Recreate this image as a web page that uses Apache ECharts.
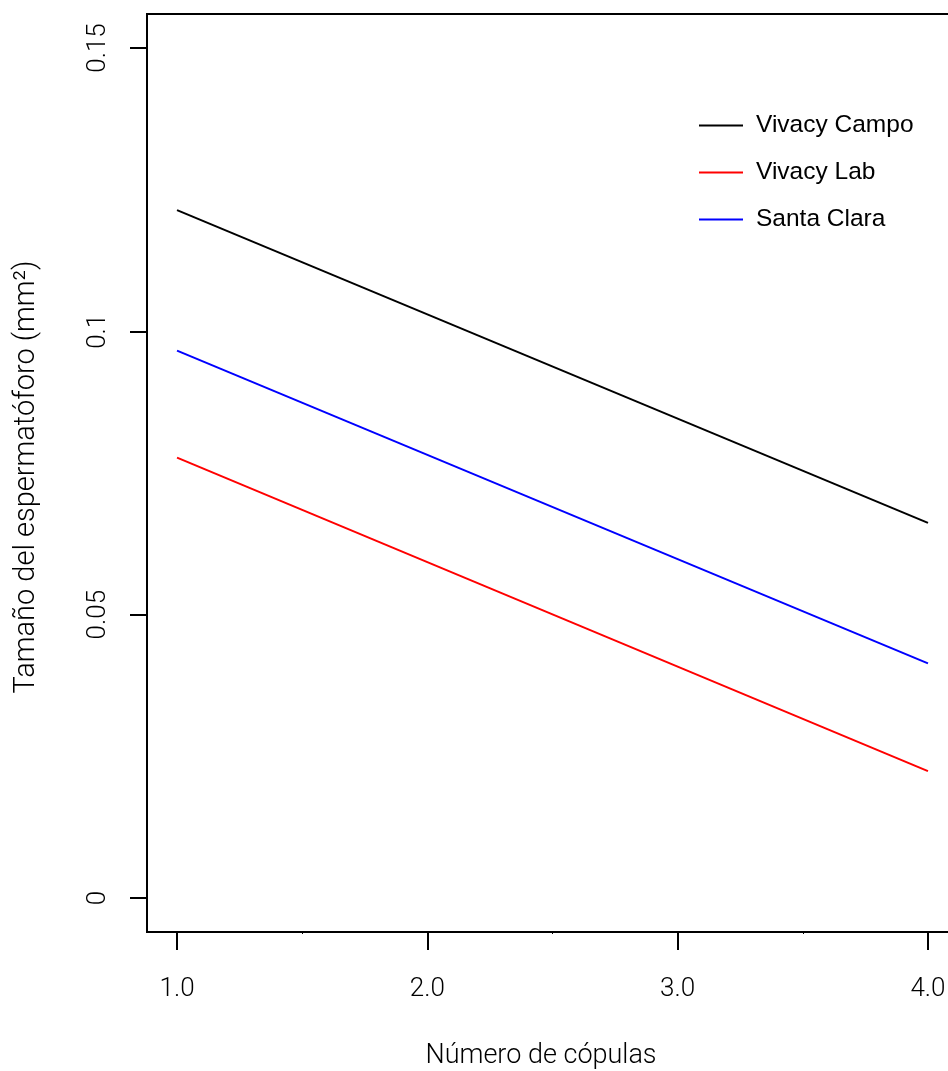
<!DOCTYPE html>
<html>
<head>
<meta charset="utf-8">
<script src="https://cdn.jsdelivr.net/npm/echarts@6/dist/echarts.min.js"></script>
<style>
  html, body { margin: 0; padding: 0; background: #fff; }
  #chart { width: 948px; height: 1071px; }
</style>
</head>
<body>
<div id="chart"></div>
<script>
// Number of copulations (x) and fitted spermatophore size (mm²) per population
const copulas = [1, 4];
const vivacyCampo = [0.1214, 0.0662];
const vivacyLab = [0.0777, 0.0224];
const santaClara = [0.0966, 0.0414];

const xTicks = [1, 2, 3, 4];
const xMinorTicks = [1.5, 2.5, 3.5];
const yTicks = [0, 0.05, 0.1, 0.15];

const seriesDefs = [
  { name: 'Vivacy Campo', values: vivacyCampo, color: '#000000' },
  { name: 'Vivacy Lab', values: vivacyLab, color: '#ff0000' },
  { name: 'Santa Clara', values: santaClara, color: '#0000ff' }
];

const lightFont = 'Roboto';
const chart = echarts.init(document.getElementById('chart'), null, { renderer: 'canvas' });

const axisLineStyle = { color: '#000', width: 2 };

chart.setOption({
  animation: false,
  backgroundColor: '#ffffff',
  grid: {
    left: 147, top: 14, width: 811, bottom: 139,
    outerBoundsMode: 'none',
    containLabel: false,
    show: true, borderColor: '#000', borderWidth: 2, backgroundColor: 'transparent'
  },
  legend: {
    orient: 'vertical',
    left: 699, top: 113,
    padding: 0,
    icon: 'rect',
    itemWidth: 44, itemHeight: 2,
    itemGap: 22,
    textStyle: {
      fontFamily: 'Liberation Sans', fontSize: 24.5, color: '#000',
      lineHeight: 24, padding: [0, 0, 0, 8]
    },
    data: seriesDefs.map(s => s.name)
  },
  xAxis: [{
    type: 'value', min: 0.88, max: 4.12,
    axisLine: { show: false, onZero: false },
    splitLine: { show: false },
    axisTick: { show: true, customValues: xTicks, length: 18, lineStyle: axisLineStyle },
    axisLabel: {
      customValues: xTicks, margin: 44,
      formatter: v => v.toFixed(1),
      fontFamily: lightFont, fontWeight: 300, fontSize: 26, color: '#000'
    }
  }, {
    type: 'value', min: 0.88, max: 4.12, position: 'bottom',
    axisLine: { show: false, onZero: false },
    splitLine: { show: false },
    axisTick: { show: true, customValues: xMinorTicks, length: 2, lineStyle: { color: '#000', width: 1 } },
    axisLabel: { show: false }
  }],
  yAxis: {
    type: 'value', min: -0.006, max: 0.156,
    axisLine: { show: false, onZero: false },
    splitLine: { show: false },
    axisTick: { show: true, customValues: yTicks, length: 17, lineStyle: axisLineStyle },
    axisLabel: {
      customValues: yTicks, rotate: 90, margin: 36,
      formatter: v => String(v),
      fontFamily: lightFont, fontWeight: 300, fontSize: 26, color: '#000'
    }
  },
  series: seriesDefs.map(s => ({
    name: s.name,
    type: 'line',
    xAxisIndex: 0,
    data: copulas.map((x, i) => [x, s.values[i]]),
    showSymbol: false,
    symbol: 'none',
    color: s.color,
    lineStyle: { color: s.color, width: 2 }
  })),
  graphic: [{
    type: 'text',
    x: 541, y: 1056,
    style: {
      text: 'Número de cópulas',
      fontFamily: lightFont, fontWeight: 300, fontSize: 27, fill: '#000',
      textAlign: 'center', textVerticalAlign: 'middle'
    }
  }, {
    type: 'text',
    x: 27, y: 477, rotation: Math.PI / 2,
    style: {
      text: 'Tamaño del espermatóforo (mm²)',
      fontFamily: lightFont, fontWeight: 300, fontSize: 29, fill: '#000',
      textAlign: 'center', textVerticalAlign: 'middle'
    }
  }]
});
</script>
</body>
</html>
